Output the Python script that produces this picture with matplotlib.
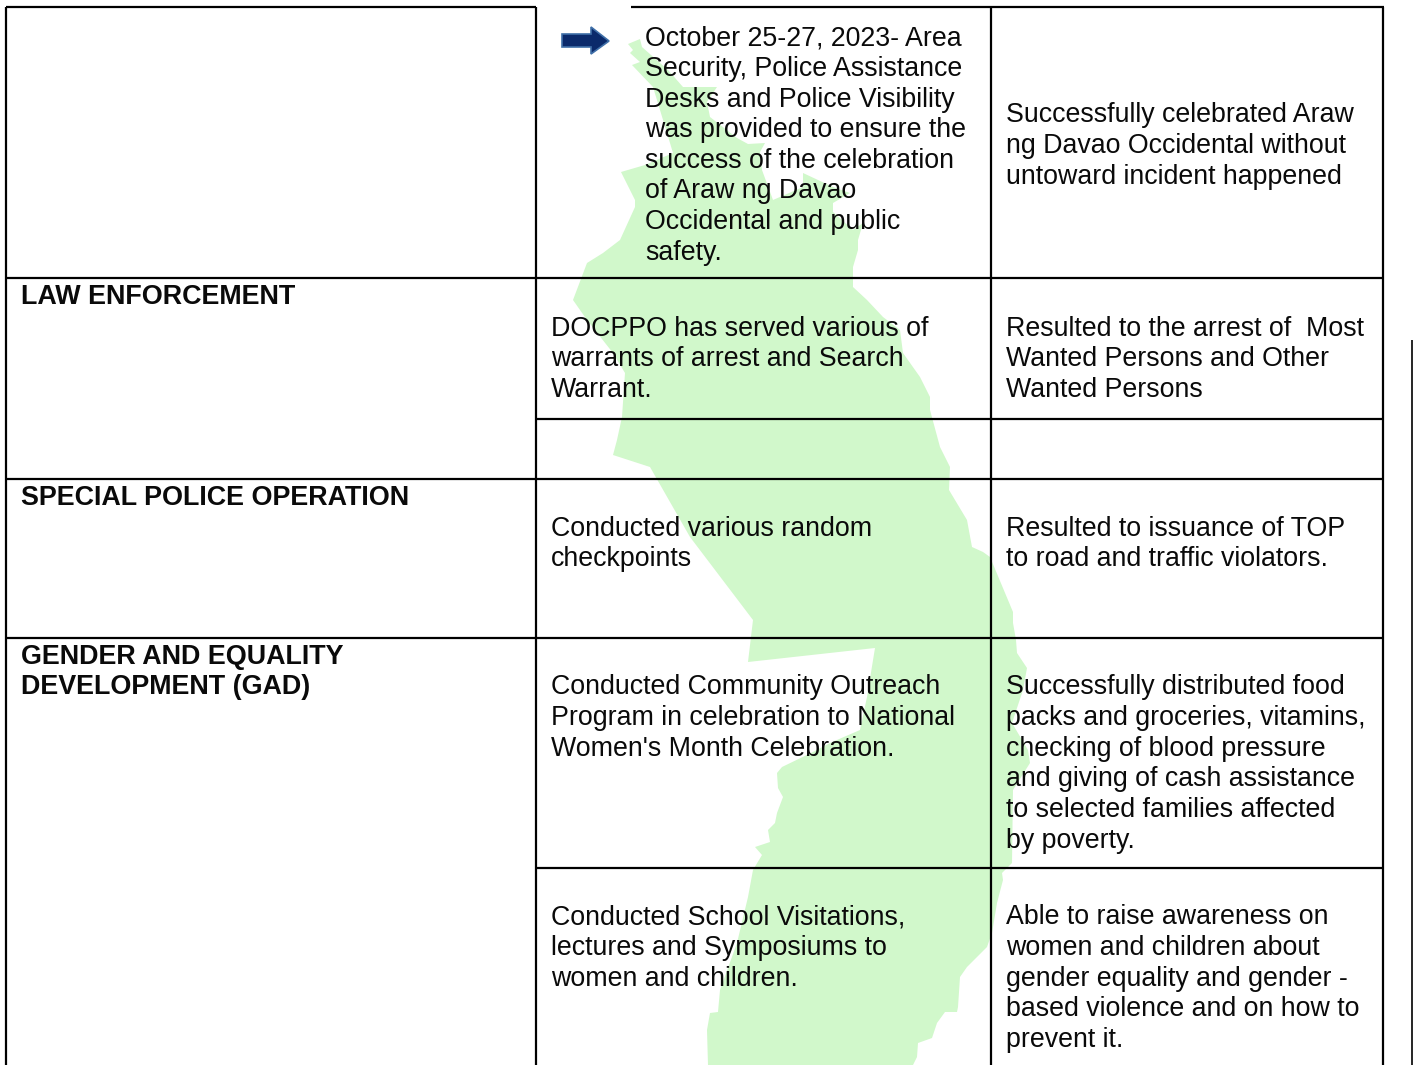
import matplotlib
matplotlib.use("Agg")
import matplotlib.pyplot as plt
from matplotlib.patches import Polygon

plt.rcParams['font.family'] = ['Liberation Sans', 'DejaVu Sans']

W, H = 1413, 1065

#Section titles in the first column, with the baseline of the first line
heads = [
    (["LAW ENFORCEMENT"], 304),
    (["SPECIAL POLICE OPERATION"], 505),
    (["GENDER AND EQUALITY", "DEVELOPMENT (GAD)"], 664),
]

#Second column
activities = [
    (["October 25-27, 2023- Area", "Security, Police Assistance", "Desks and Police Visibility",
      "was provided to ensure the", "success of the celebration", "of Araw ng Davao",
      "Occidental and public", "safety."], 645, 45.5),
    (["DOCPPO has served various of", "warrants of arrest and Search", "Warrant."], 551, 335.5),
    (["Conducted various random", "checkpoints"], 551, 535.5),
    (["Conducted Community Outreach", "Program in celebration to National",
      "Women's Month Celebration."], 551, 694.5),
    (["Conducted School Visitations,", "lectures and Symposiums to",
      "women and children."], 551, 924.5),
]

#Third column
results = [
    (["Successfully celebrated Araw", "ng Davao Occidental without",
      "untoward incident happened"], 122.5),
    (["Resulted to the arrest of  Most", "Wanted Persons and Other", "Wanted Persons"], 335.5),
    (["Resulted to issuance of TOP", "to road and traffic violators."], 535.5),
    (["Successfully distributed food", "packs and groceries, vitamins,",
      "checking of blood pressure", "and giving of cash assistance",
      "to selected families affected", "by poverty."], 694.5),
    (["Able to raise awareness on", "women and children about",
      "gender equality and gender -", "based violence and on how to",
      "prevent it."], 924.5),
]

#Table rules: x0, x1, y
h_rules = [(6, 536, 7), (631, 1384, 7), (6, 1384, 278), (536, 1384, 419),
           (6, 1384, 479), (6, 1384, 638), (536, 1384, 868)]
v_rules = [6, 536, 991, 1383]

#Outline of the province in the background
map_x = [640, 642, 668, 683, 717, 707, 710, 737, 748, 765, 760, 762, 773, 803, 803, 833, 850, 833, 833, 853,
         863, 858, 858, 853, 853, 867, 883, 900, 903, 920, 930, 930, 940, 950, 949, 967, 972, 983, 990,
         1013, 1013, 1016, 1017, 1027, 1023, 1012, 1028, 1030, 1013, 1012, 1002, 1003, 997, 992, 987, 967,
         960, 958, 957, 945, 937, 932, 918, 917, 913, 708, 707, 710, 718, 720, 737, 748, 753, 762, 755,
         770, 768, 775, 777, 783, 778, 777, 782, 813, 830, 860, 867, 875, 748, 753, 690, 650, 613, 617,
         622, 625, 613, 587, 573, 587, 603, 620, 635, 635, 621, 645, 673, 670, 660, 653, 632, 640, 630,
         633, 628]
map_y = [39, 47, 70, 87, 87, 102, 117, 138, 144, 143, 152, 170, 200, 187, 173, 187, 193, 203, 212, 230,
         223, 240, 250, 267, 287, 300, 317, 330, 353, 377, 397, 410, 447, 467, 490, 520, 547, 552, 557,
         612, 623, 640, 653, 668, 690, 723, 750, 763, 790, 863, 873, 880, 903, 933, 947, 967,
         977, 1007, 1012, 1012, 1023, 1038, 1043, 1057, 1065, 1065, 1030, 1013, 1012, 990, 943, 897, 870, 855, 847,
         842, 830, 823, 813, 797, 788, 773, 767, 752, 743, 730, 697, 648, 662, 620, 537, 467, 455, 440,
         417, 373, 353, 320, 300, 263, 253, 240, 207, 200, 172, 165, 153, 143, 110, 87, 65, 62, 53,
         50, 44]

#Arrow next to the first bullet
arrow_x = [562, 591, 591, 609, 591, 591, 562]
arrow_y = [34, 34, 27, 41, 54, 47, 47]

FS = 19.22
STEP = 30.6

fig = plt.figure(figsize=(W / 100, H / 100), dpi=100)
ax = fig.add_axes([0, 0, 1, 1])
ax.set_xlim(0, W)
ax.set_ylim(H, 0)
ax.axis('off')

ax.add_patch(Polygon(list(zip(map_x, map_y)), closed=True, fc='#d1f8cb', ec='none', zorder=1))
ax.add_patch(Polygon(list(zip(arrow_x, arrow_y)), closed=True, fc='#0b2a6b', ec='#3f6fa8', lw=1.2, zorder=2))

for x0, x1, y in h_rules:
    ax.plot([x0, x1], [y, y], color='black', lw=1.6, solid_capstyle='butt', zorder=3)
for x in v_rules:
    ax.plot([x, x], [7, H], color='black', lw=1.6, solid_capstyle='butt', zorder=3)
ax.plot([1412, 1412], [340, H], color='black', lw=1.2, solid_capstyle='butt', zorder=3)

for lines, y in heads:
    for i, s in enumerate(lines):
        ax.text(21, y + i * 30, s, fontsize=19.4, fontweight='bold', va='baseline', color='#0a0a0a', zorder=4)

for lines, x, y in activities:
    for i, s in enumerate(lines):
        ax.text(x, y + i * STEP, s, fontsize=FS, va='baseline', color='#0a0a0a', zorder=4)

for lines, y in results:
    for i, s in enumerate(lines):
        ax.text(1006, y + i * STEP, s, fontsize=FS, va='baseline', color='#0a0a0a', zorder=4)

fig.savefig('out.png', dpi=100)
